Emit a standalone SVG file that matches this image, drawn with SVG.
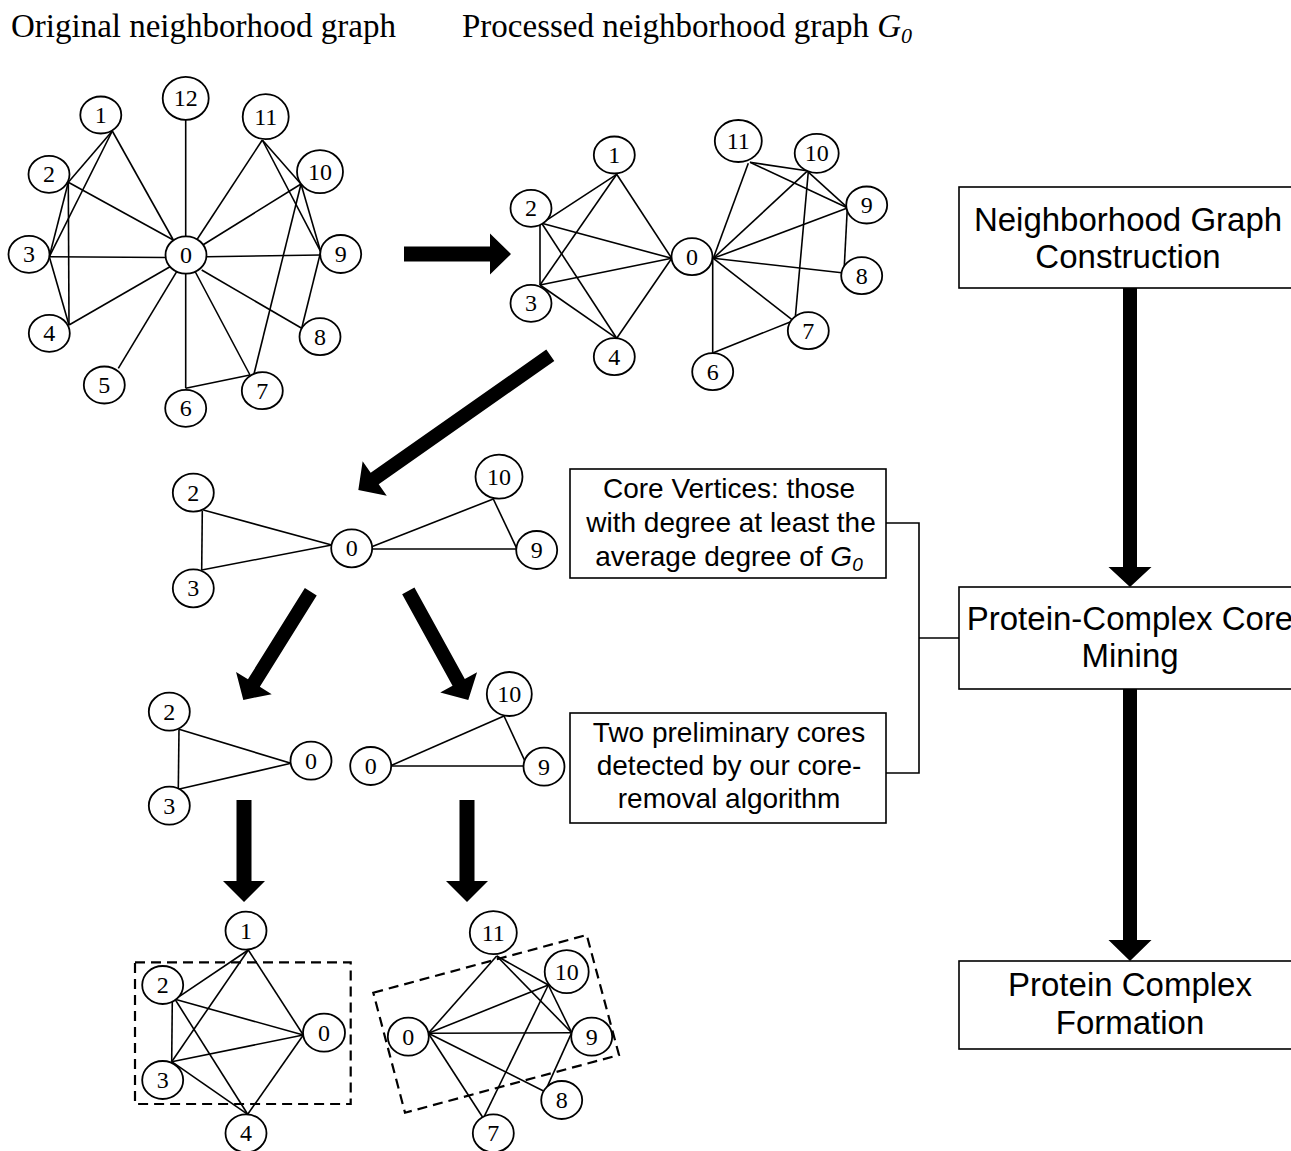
<svg xmlns="http://www.w3.org/2000/svg" width="1291" height="1151" viewBox="0 0 1291 1151">
<style>
.bg{fill:#fff}
.nd ellipse{fill:#fff;stroke:#000;stroke-width:1.8}
.nd text{font-family:"Liberation Serif","Times New Roman",serif;font-size:24px;text-anchor:middle;fill:#000}
.edges line{stroke:#000;stroke-width:1.6}
.arr{fill:#000}
.box rect{fill:#fff;stroke:#000;stroke-width:1.6}
.box text{font-family:"Liberation Sans",Arial,sans-serif;text-anchor:middle;fill:#000}
.fc text{font-size:33px}
.tb text{font-size:28px}
.title{font-family:"Liberation Serif","Times New Roman",serif;font-size:33px;fill:#000}
.dash{fill:none;stroke:#000;stroke-width:2.2;stroke-dasharray:10,6}
.conn{fill:none;stroke:#000;stroke-width:1.6}
</style>
<rect class="bg" x="0" y="0" width="1291" height="1151"/>

<text class="title" x="11" y="37">Original neighborhood graph</text>
<text class="title" x="462" y="37">Processed neighborhood graph <tspan font-style="italic">G</tspan><tspan font-style="italic" font-size="22" dy="6">0</tspan></text>

<g id="connectors">
<g class="edges">
<!-- graph 1 -->
<line x1="112.3" y1="131" x2="173.3" y2="240"/>
<line x1="112.3" y1="131" x2="68.3" y2="182.3"/>
<line x1="112.3" y1="131" x2="49.3" y2="256.7"/>
<line x1="185.7" y1="120" x2="185.7" y2="236.7"/>
<line x1="68.3" y1="182.3" x2="173.3" y2="240"/>
<line x1="68.3" y1="182.3" x2="49.3" y2="256.7"/>
<line x1="68.3" y1="182.3" x2="69" y2="325"/>
<line x1="49.3" y1="256.7" x2="166.7" y2="257.5"/>
<line x1="49.3" y1="256.7" x2="69" y2="325"/>
<line x1="69" y1="325" x2="170" y2="266.7"/>
<line x1="118.3" y1="368.3" x2="176.7" y2="271.7"/>
<line x1="185.7" y1="388.3" x2="185.7" y2="273.3"/>
<line x1="185.7" y1="388.3" x2="250" y2="375"/>
<line x1="250" y1="375" x2="194.3" y2="270"/>
<line x1="253.3" y1="376.7" x2="301" y2="184"/>
<line x1="301.7" y1="328.3" x2="201.7" y2="270"/>
<line x1="301.7" y1="328.3" x2="320.7" y2="251.7"/>
<line x1="320.7" y1="255" x2="206.7" y2="256.7"/>
<line x1="301" y1="184" x2="200" y2="246.7"/>
<line x1="301" y1="184" x2="320.7" y2="251.7"/>
<line x1="262.3" y1="140" x2="196.7" y2="240"/>
<line x1="262.3" y1="140" x2="301" y2="184"/>
<line x1="262.3" y1="140" x2="320.7" y2="251.7"/>
<!-- graph 2 -->
<line x1="616.7" y1="174.3" x2="541.7" y2="223.3"/>
<line x1="616.7" y1="174.3" x2="540" y2="285"/>
<line x1="616.7" y1="174.3" x2="671.7" y2="258.3"/>
<line x1="540" y1="223.3" x2="540" y2="285"/>
<line x1="541.7" y1="223.3" x2="671.7" y2="258.3"/>
<line x1="541.7" y1="223.3" x2="616.7" y2="338.3"/>
<line x1="540" y1="285" x2="671.7" y2="258.3"/>
<line x1="540" y1="285" x2="616.7" y2="338.3"/>
<line x1="616.7" y1="338.3" x2="671.7" y2="258.3"/>
<line x1="713.3" y1="258.3" x2="748.3" y2="163.3"/>
<line x1="713.3" y1="258.3" x2="806.7" y2="171.7"/>
<line x1="713.3" y1="258.3" x2="846.7" y2="208.3"/>
<line x1="713.3" y1="258.3" x2="841.7" y2="272.7"/>
<line x1="713.3" y1="258.3" x2="793.3" y2="320.7"/>
<line x1="712.7" y1="258.3" x2="712.7" y2="353"/>
<line x1="712.7" y1="353" x2="793.3" y2="320.7"/>
<line x1="750" y1="162.3" x2="806.7" y2="170.7"/>
<line x1="750" y1="162.3" x2="848.3" y2="208.3"/>
<line x1="806.7" y1="170.7" x2="848.3" y2="208.3"/>
<line x1="808.3" y1="171.7" x2="795" y2="320.7"/>
<line x1="847.3" y1="208.3" x2="844" y2="271.7"/>
<!-- middle graph -->
<line x1="202.3" y1="510.7" x2="201.7" y2="570"/>
<line x1="203.3" y1="510" x2="331.7" y2="545"/>
<line x1="201.7" y1="570" x2="331.7" y2="545"/>
<line x1="371.7" y1="546.7" x2="493.3" y2="499"/>
<line x1="371.7" y1="549" x2="516.7" y2="549"/>
<line x1="493.3" y1="499" x2="516.7" y2="548.3"/>
<!-- lower left -->
<line x1="179" y1="729.3" x2="178.3" y2="789.3"/>
<line x1="179" y1="729.3" x2="291" y2="763.3"/>
<line x1="178.3" y1="789.3" x2="291" y2="763.3"/>
<!-- lower right -->
<line x1="390" y1="766" x2="504" y2="716"/>
<line x1="390" y1="766" x2="526" y2="766"/>
<line x1="504" y1="716" x2="526" y2="763.3"/>
<!-- bottom left -->
<line x1="248.3" y1="950" x2="175" y2="999.3"/>
<line x1="248.3" y1="950" x2="171.7" y2="1061.7"/>
<line x1="248.3" y1="950" x2="303.3" y2="1035"/>
<line x1="172.3" y1="1000" x2="171.7" y2="1061.7"/>
<line x1="175" y1="999.3" x2="303.3" y2="1035"/>
<line x1="175" y1="999.3" x2="247.7" y2="1114.3"/>
<line x1="171.7" y1="1061.7" x2="303.3" y2="1035"/>
<line x1="171.7" y1="1061.7" x2="247.7" y2="1114.3"/>
<line x1="247.7" y1="1114.3" x2="303.3" y2="1035"/>
<!-- bottom right -->
<line x1="428.3" y1="1033.3" x2="496.7" y2="956"/>
<line x1="428.3" y1="1033.3" x2="548.3" y2="985"/>
<line x1="428.3" y1="1033.3" x2="571.7" y2="1032.7"/>
<line x1="428.3" y1="1033.3" x2="545" y2="1091.7"/>
<line x1="428.3" y1="1033.3" x2="483.3" y2="1118.3"/>
<line x1="496.7" y1="956" x2="548.3" y2="985"/>
<line x1="496.7" y1="956" x2="571.7" y2="1032.7"/>
<line x1="548.3" y1="985" x2="571.7" y2="1032.7"/>
<line x1="548.3" y1="985" x2="483.3" y2="1118.3"/>
<line x1="571.7" y1="1032.7" x2="545" y2="1091.7"/>
</g>
<!-- dashed groupings -->
<rect class="dash" x="135" y="962.3" width="215.7" height="141.7"/>
<polygon class="dash" points="373.3,992.7 586.7,935 619,1055 405,1112.7"/>
<!-- big arrows -->
<polygon class="arr" points="404,246.5 490,246.5 490,233.5 511,254 490,274.5 490,261.5 404,261.5"/>
<polygon class="arr" transform="translate(550.3,355.3) rotate(144.95)" points="0,-7 214.5,-7 214.5,-21 234.5,0 214.5,21 214.5,7 0,7"/>
<polygon class="arr" transform="translate(310.8,591.7) rotate(121.93)" points="0,-7 107.6,-7 107.6,-21 127.6,0 107.6,21 107.6,7 0,7"/>
<polygon class="arr" transform="translate(408.3,590.8) rotate(61.22)" points="0,-7 104.6,-7 104.6,-21 124.6,0 104.6,21 104.6,7 0,7"/>
<polygon class="arr" points="236.5,800 251.5,800 251.5,881 265,881 244,902 223,881 236.5,881"/>
<polygon class="arr" points="459.5,800 474.5,800 474.5,881 488,881 467,902 446,881 459.5,881"/>
<!-- flowchart arrows -->
<polygon class="arr" points="1123,288 1137,288 1137,567 1151.5,567 1130,587 1108.5,567 1123,567"/>
<polygon class="arr" points="1123,689 1137,689 1137,940 1151.5,940 1130,961 1108.5,940 1123,940"/>
<!-- bracket connector -->
<polyline class="conn" points="886,523 919,523 919,773 886,773"/>
<line class="conn" x1="919" y1="638" x2="959" y2="638"/>
</g>

<!-- graph 1 nodes -->
<g id="a0" class="nd"><ellipse cx="186" cy="255" rx="20.5" ry="18.7"/><text x="186" y="263">0</text></g>
<g id="a1" class="nd"><ellipse cx="100.8" cy="115" rx="20.5" ry="18.5"/><text x="100.8" y="123">1</text></g>
<g id="a2" class="nd"><ellipse cx="49" cy="174.3" rx="20.5" ry="18.5"/><text x="49" y="182.3">2</text></g>
<g id="a3" class="nd"><ellipse cx="29" cy="254.3" rx="20.5" ry="18.5"/><text x="29" y="262.3">3</text></g>
<g id="a4" class="nd"><ellipse cx="49.3" cy="333.3" rx="20.5" ry="18.5"/><text x="49.3" y="341.3">4</text></g>
<g id="a5" class="nd"><ellipse cx="104.3" cy="385" rx="20.5" ry="18.5"/><text x="104.3" y="393">5</text></g>
<g id="a6" class="nd"><ellipse cx="185.7" cy="408.3" rx="20.5" ry="18.5"/><text x="185.7" y="416.3">6</text></g>
<g id="a7" class="nd"><ellipse cx="262.3" cy="390.7" rx="20.5" ry="18.5"/><text x="262.3" y="398.7">7</text></g>
<g id="a8" class="nd"><ellipse cx="320" cy="336.7" rx="20.5" ry="18.5"/><text x="320" y="344.7">8</text></g>
<g id="a9" class="nd"><ellipse cx="340.7" cy="254" rx="20.5" ry="19"/><text x="340.7" y="262">9</text></g>
<g id="a10" class="nd"><ellipse cx="320" cy="171.7" rx="23" ry="21.5"/><text x="320" y="179.7">10</text></g>
<g id="a11" class="nd"><ellipse cx="265.7" cy="116.7" rx="23" ry="22.5"/><text x="265.7" y="124.7">11</text></g>
<g id="a12" class="nd"><ellipse cx="185.7" cy="98.3" rx="23" ry="21.5"/><text x="185.7" y="106.3">12</text></g>

<!-- graph 2 nodes -->
<g id="b0" class="nd"><ellipse cx="692" cy="256.7" rx="20.5" ry="18.5"/><text x="692" y="264.7">0</text></g>
<g id="b1" class="nd"><ellipse cx="614.3" cy="155" rx="20.5" ry="18.5"/><text x="614.3" y="163">1</text></g>
<g id="b2" class="nd"><ellipse cx="531" cy="208.3" rx="20.5" ry="18.5"/><text x="531" y="216.3">2</text></g>
<g id="b3" class="nd"><ellipse cx="531" cy="303.3" rx="20.5" ry="18.5"/><text x="531" y="311.3">3</text></g>
<g id="b4" class="nd"><ellipse cx="614.3" cy="356.7" rx="20.5" ry="18.5"/><text x="614.3" y="364.7">4</text></g>
<g id="b6" class="nd"><ellipse cx="712.7" cy="371.7" rx="20.5" ry="18.5"/><text x="712.7" y="379.7">6</text></g>
<g id="b7" class="nd"><ellipse cx="808.3" cy="330.7" rx="20.5" ry="18.5"/><text x="808.3" y="338.7">7</text></g>
<g id="b8" class="nd"><ellipse cx="861.7" cy="275.7" rx="20.5" ry="18.5"/><text x="861.7" y="283.7">8</text></g>
<g id="b9" class="nd"><ellipse cx="866.7" cy="205" rx="20.5" ry="18.5"/><text x="866.7" y="213">9</text></g>
<g id="b10" class="nd"><ellipse cx="816.7" cy="153.3" rx="22" ry="19.5"/><text x="816.7" y="161.3">10</text></g>
<g id="b11" class="nd"><ellipse cx="738.3" cy="141" rx="23.5" ry="21"/><text x="738.3" y="149">11</text></g>

<!-- middle graph nodes -->
<g id="c0" class="nd"><ellipse cx="351.7" cy="548.3" rx="20.5" ry="19"/><text x="351.7" y="556.3">0</text></g>
<g id="c2" class="nd"><ellipse cx="193.3" cy="492.7" rx="20.5" ry="19"/><text x="193.3" y="500.7">2</text></g>
<g id="c3" class="nd"><ellipse cx="193.3" cy="588.3" rx="20.5" ry="19"/><text x="193.3" y="596.3">3</text></g>
<g id="c9" class="nd"><ellipse cx="536.7" cy="550" rx="20.5" ry="19"/><text x="536.7" y="558">9</text></g>
<g id="c10" class="nd"><ellipse cx="499" cy="476.7" rx="23.5" ry="22"/><text x="499" y="484.7">10</text></g>

<!-- lower left nodes -->
<g id="d0" class="nd"><ellipse cx="311" cy="760.7" rx="20.5" ry="19"/><text x="311" y="768.7">0</text></g>
<g id="d2" class="nd"><ellipse cx="169.3" cy="711.7" rx="20.5" ry="19"/><text x="169.3" y="719.7">2</text></g>
<g id="d3" class="nd"><ellipse cx="169.3" cy="805.7" rx="20.5" ry="19"/><text x="169.3" y="813.7">3</text></g>

<!-- lower right nodes -->
<g id="e0" class="nd"><ellipse cx="370.7" cy="766" rx="20.5" ry="19"/><text x="370.7" y="774">0</text></g>
<g id="e9" class="nd"><ellipse cx="544" cy="766.7" rx="20.5" ry="19"/><text x="544" y="774.7">9</text></g>
<g id="e10" class="nd"><ellipse cx="509.3" cy="694" rx="22.5" ry="22"/><text x="509.3" y="702">10</text></g>

<!-- bottom left nodes -->
<g id="f0" class="nd"><ellipse cx="324" cy="1032.7" rx="21" ry="19"/><text x="324" y="1040.7">0</text></g>
<g id="f1" class="nd"><ellipse cx="246" cy="930.7" rx="20.5" ry="19"/><text x="246" y="938.7">1</text></g>
<g id="f2" class="nd"><ellipse cx="162.7" cy="985" rx="20.5" ry="19"/><text x="162.7" y="993">2</text></g>
<g id="f3" class="nd"><ellipse cx="162.7" cy="1080" rx="20.5" ry="19"/><text x="162.7" y="1088">3</text></g>
<g id="f4" class="nd"><ellipse cx="246" cy="1133.3" rx="20.5" ry="19"/><text x="246" y="1141.3">4</text></g>

<!-- bottom right nodes -->
<g id="g0" class="nd"><ellipse cx="408.3" cy="1036.7" rx="20.5" ry="19"/><text x="408.3" y="1044.7">0</text></g>
<g id="g7" class="nd"><ellipse cx="493.3" cy="1133.3" rx="20.5" ry="19"/><text x="493.3" y="1141.3">7</text></g>
<g id="g8" class="nd"><ellipse cx="561.7" cy="1100" rx="20.5" ry="19"/><text x="561.7" y="1108">8</text></g>
<g id="g9" class="nd"><ellipse cx="591.7" cy="1036.7" rx="20.5" ry="19"/><text x="591.7" y="1044.7">9</text></g>
<g id="g10" class="nd"><ellipse cx="566.7" cy="971.7" rx="22" ry="21.5"/><text x="566.7" y="979.7">10</text></g>
<g id="g11" class="nd"><ellipse cx="493.3" cy="932.7" rx="23.5" ry="21.5"/><text x="493.3" y="940.7">11</text></g>

<!-- text boxes -->
<g id="coreVertices" class="box tb">
<rect x="570" y="469" width="316" height="109"/>
<text x="729" y="498">Core Vertices: those</text>
<text x="731" y="532">with degree at least the</text>
<text x="729" y="566">average degree of <tspan font-style="italic">G</tspan><tspan font-style="italic" font-size="19" dy="5">0</tspan></text>
</g>
<g id="prelimCores" class="box tb">
<rect x="570" y="713" width="316" height="110"/>
<text x="729" y="742">Two preliminary cores</text>
<text x="729" y="775">detected by our core-</text>
<text x="729" y="808">removal algorithm</text>
</g>

<!-- flowchart -->
<g id="step1" class="box fc">
<rect x="959" y="187" width="345" height="101"/>
<text x="1128" y="231">Neighborhood Graph</text>
<text x="1128" y="268">Construction</text>
</g>
<g id="step2" class="box fc">
<rect x="959" y="587" width="345" height="102"/>
<text x="1130" y="630">Protein-Complex Core</text>
<text x="1130" y="667">Mining</text>
</g>
<g id="step3" class="box fc">
<rect x="959" y="961" width="345" height="88"/>
<text x="1130" y="996">Protein Complex</text>
<text x="1130" y="1034">Formation</text>
</g>
</svg>
